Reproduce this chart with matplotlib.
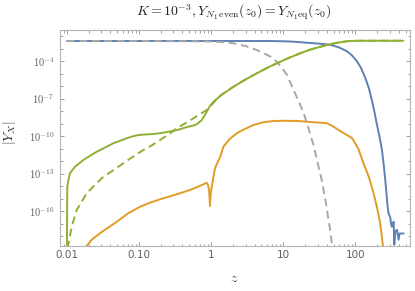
import numpy as np
import matplotlib
matplotlib.use("Agg")
import matplotlib.pyplot as plt
from matplotlib.ticker import FixedLocator, NullFormatter

plt.rcParams['mathtext.fontset'] = 'cm'

# ---- data: z values and log10 |Y| ----
blue_z = [0.01, 0.1, 1.0, 3.0, 6.6, 10, 12.5, 16, 23.7, 33, 45, 60, 76.7, 90, 105.6, 120, 138,
          155, 171, 185, 200, 218, 235, 248, 261, 271, 281,
          290, 306, 313, 323, 341, 348, 359, 380, 399, 412, 445, 469]
blue_logy = [-2.40, -2.40, -2.40, -2.40, -2.40, -2.42, -2.44, -2.48, -2.56, -2.62, -2.70, -2.92,
             -3.22, -3.55, -4.02, -4.55, -5.36, -6.2, -7.2, -8.1, -9.1, -10.1, -11.12, -12.3,
             -13.52, -14.55, -15.66,
             -16.2, -16.5, -17.0, -17.26, -16.86, -18.7, -17.66, -17.5, -18.3,
             -17.8, -17.8, -17.8]

green_z = [0.0100, 0.01003, 0.01009, 0.0105, 0.01101, 0.01291, 0.01683, 0.02, 0.02584, 0.033,
           0.04395, 0.055, 0.06745, 0.08, 0.0977, 0.12, 0.158, 0.2, 0.2425, 0.3, 0.371, 0.45,
           0.55, 0.632, 0.743, 0.871, 0.95, 1.076, 1.4, 2.04, 3.0, 4.31, 6.0, 8.18, 12.0, 17.2,
           25, 40.5, 55, 76.7, 100, 129, 465]
green_logy = [-20.0, -16.5, -14.06, -13.5, -12.98, -12.46, -11.92, -11.65, -11.26, -10.95,
              -10.58, -10.38, -10.18, -10.04, -9.92, -9.88, -9.84, -9.77, -9.68, -9.58, -9.46,
              -9.3, -9.18, -9.06, -8.72, -8.06, -7.65, -7.26, -6.7, -6.06, -5.48, -4.98, -4.55,
              -4.18, -3.75, -3.38, -3.05, -2.72, -2.55, -2.42, -2.385, -2.38, -2.38]

green_dash_z = [0.0102, 0.01042, 0.01161, 0.01365, 0.0188, 0.025, 0.0319, 0.045, 0.0605,
                0.085, 0.1148, 0.15, 0.196, 0.26, 0.334, 0.44, 0.568, 0.871, 1.2, 1.4, 2.04,
                3.0, 4.31, 6.0, 8.18, 12.0, 17.2, 25, 40.5, 55, 76.7, 100, 129, 465]
green_dash_logy = [-20.0, -18.72, -17.26, -15.92, -14.58, -13.85, -13.26, -12.7, -12.18,
                   -11.6, -11.12, -10.75, -10.32, -9.85, -9.38, -8.98, -8.58, -7.92, -7.05,
                   -6.7, -6.06, -5.48, -4.98, -4.55, -4.18, -3.75, -3.38, -3.05, -2.72, -2.55,
                   -2.42, -2.385, -2.38, -2.38]

orange_z = [0.0175, 0.01837, 0.022, 0.0287, 0.038, 0.049, 0.07, 0.1032, 0.14, 0.196, 0.27,
            0.371, 0.5, 0.632, 0.76, 0.826, 0.866, 0.905, 0.94, 0.965, 0.985, 1.023, 1.08,
            1.137, 1.23, 1.33, 1.48, 1.8, 2.27, 2.8, 3.87, 5.3, 7.33, 10, 12.5, 16, 21.3, 30,
            40.5, 50, 58.6, 68.8, 90, 110, 130, 155, 179.5, 200, 222, 243, 250]
orange_logy = [-19.3, -18.86, -18.3, -17.78, -17.3, -16.86, -16.2, -15.66, -15.35, -15.06,
               -14.82, -14.58, -14.33, -14.10, -13.9, -13.8, -13.74, -13.9, -14.4, -15.6,
               -14.6, -14.06, -13.2, -12.55, -12.1, -11.7, -10.86, -10.25, -9.78, -9.5, -9.12,
               -8.9, -8.80, -8.78, -8.79, -8.80, -8.86, -8.92, -8.98, -9.25, -9.52, -9.76,
               -10.16, -11.0, -12.18, -13.3, -14.58, -15.7, -16.98, -18.86, -19.5]

gray_z = [0.01, 0.1, 0.511, 1.0, 1.5, 2.04, 3.0, 4.31, 5.7, 7.33, 9.5, 11.25, 12.5, 15.5, 19.1,
          22.5, 26.3, 30, 34.5, 39.5, 45, 47.5, 49]
gray_logy = [-2.40, -2.40, -2.42, -2.44, -2.5, -2.58, -2.8, -3.12, -3.45, -3.78, -4.5, -5.1,
             -5.7, -6.9, -8.1, -9.4, -10.72, -12.1, -13.6, -15.5, -17.6, -18.7, -20.0]

xtick_vals = [0.01, 0.1, 1, 10, 100]
xtick_labels = ["0.01", "0.10", "1", "10", "100"]
ytick_exps = [-4, -7, -10, -13, -16]
yminor_exps = [-2, -3, -5, -6, -8, -9, -11, -12, -14, -15, -17, -18]

title = r"$K=10^{-3}, Y_{N_1\,\mathrm{even}}(z_0)=Y_{N_1\mathrm{eq}}(z_0)$"

# ---- figure ----
fig = plt.figure(figsize=(4.15, 2.91), dpi=100)
ax = fig.add_axes([60/415, 1-246/291, 350/415, (246-29.5)/291])

c_blue = '#5E81B5'
c_orange = '#E19C24'
c_green = '#8FB032'
c_gray = '#A8A8A8'
lw = 1.4

def pw(v):
    return 10.0 ** np.asarray(v)

kw = dict(solid_joinstyle='round', solid_capstyle='round')
ax.plot(blue_z, pw(blue_logy), color=c_blue, lw=lw, **kw)
ax.plot(orange_z, pw(orange_logy), color=c_orange, lw=lw, **kw)
ax.plot(gray_z, pw(gray_logy), color=c_gray, lw=lw, dashes=(4, 2.4))
ax.plot(green_dash_z, pw(green_dash_logy), color=c_green, lw=lw, dashes=(4, 2.4))
ax.plot(green_z, pw(green_logy), color=c_green, lw=lw, **kw)

ax.set_xscale('log')
ax.set_yscale('log')
ax.set_xlim(0.0080, 575)
ax.set_ylim(10**-18.8, 10**-1.48)

# x ticks
ax.xaxis.set_major_locator(FixedLocator(xtick_vals))
ax.set_xticklabels(xtick_labels)
xminor = [m * 10.0**e for e in range(-3, 3) for m in range(2, 10)]
ax.xaxis.set_minor_locator(FixedLocator(xminor))
ax.xaxis.set_minor_formatter(NullFormatter())

# y ticks
ax.yaxis.set_major_locator(FixedLocator([10.0**e for e in ytick_exps]))
ax.set_yticklabels([r"$10^{%d}$" % e for e in ytick_exps])
ax.yaxis.set_minor_locator(FixedLocator([10.0**e for e in yminor_exps]))
ax.yaxis.set_minor_formatter(NullFormatter())

tick_col = '#A0A0A0'
lab_col = '#606060'
ax.tick_params(which='both', direction='in', top=True, right=True, color=tick_col,
               width=0.7, labelcolor=lab_col, labelsize=7.5)
ax.tick_params(which='major', length=3.2)
ax.tick_params(which='minor', length=1.8)
ax.tick_params(axis='x', pad=3)
ax.tick_params(axis='y', pad=4)
for s in ax.spines.values():
    s.set_color('#B4B4B4')
    s.set_linewidth(0.8)

fig.text(234/415, 1-12.5/291, title, ha='center', va='center', fontsize=10, color='#222222')
fig.text(234/415, 1-278/291, r"$z$", ha='center', va='center', fontsize=10, color='#333333')
fig.text(9/415, 1-133/291, r"$|Y_X|$", ha='center', va='center', rotation=90,
         fontsize=10, color='#333333')

fig.savefig("out.png", dpi=100)
